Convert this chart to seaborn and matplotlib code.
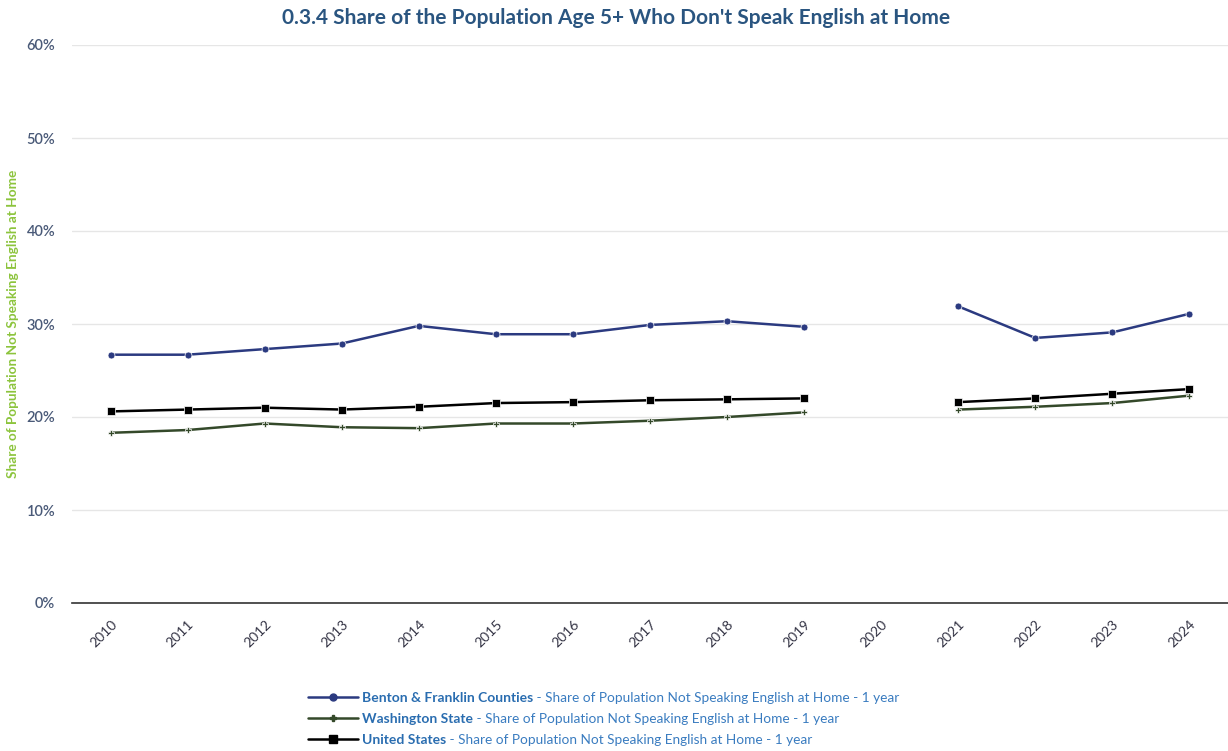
import pandas as pd
import numpy as np
import matplotlib
matplotlib.use("Agg")
import matplotlib.pyplot as plt
import seaborn as sns

# Values (share, %); 2020 has no 1-year estimate
years = [2010, 2011, 2012, 2013, 2014, 2015, 2016, 2017, 2018, 2019, 2021, 2022, 2023, 2024]
benton = [26.7, 26.7, 27.3, 27.9, 29.8, 28.9, 28.9, 29.9, 30.3, 29.7, 31.9, 28.5, 29.1, 31.1]
washington = [18.3, 18.6, 19.3, 18.9, 18.8, 19.3, 19.3, 19.6, 20.0, 20.5, 20.8, 21.1, 21.5, 22.3]
united_states = [20.6, 20.8, 21.0, 20.8, 21.1, 21.5, 21.6, 21.8, 21.9, 22.0, 21.6, 22.0, 22.5, 23.0]
tick_years = list(range(2010, 2025))

names = ["Benton & Franklin Counties", "Washington State", "United States"]
suffix = " - Share of Population Not Speaking English at Home - 1 year"

rows = []
for name, vals in zip(names, [benton, washington, united_states]):
    for yr, v in zip(years, vals):
        rows.append({"Year": yr, "Share": v / 100, "Region": name,
                     "Period": "pre" if yr < 2020 else "post"})
df = pd.DataFrame(rows)

sns.set_style("white")
plt.rcParams["font.family"] = ["Lato", "DejaVu Sans"]

palette = {names[0]: "#2b3a80", names[1]: "#34492a", names[2]: "#000000"}
markers = {names[0]: "o", names[1]: "P", names[2]: "s"}
sizes_m = {names[0]: 5, names[1]: 4, names[2]: 6}

fig = plt.figure(figsize=(12.28, 7.51), dpi=100)
ax = fig.add_axes([72 / 1228, 1 - 603 / 751, (1228 - 72) / 1228, (603 - 45) / 751])

for name in names:
    sub = df[df["Region"] == name]
    sns.lineplot(data=sub, x="Year", y="Share", units="Period", estimator=None,
                 color=palette[name], marker=markers[name], markersize=sizes_m[name],
                 markeredgewidth=0.5, linewidth=1.8, ax=ax, legend=False)

ax.set_xlim(2009.5, 2024.5)
ax.set_ylim(0, 0.6)
ax.set_yticks(np.arange(0, 0.61, 0.1))
ax.yaxis.set_major_formatter(matplotlib.ticker.PercentFormatter(1.0, decimals=0))
ax.set_xticks(tick_years)
ax.set_xticklabels([str(y) for y in tick_years], rotation=45, ha="right",
                   rotation_mode="anchor", color="#333344", fontsize=10)
for lbl in ax.get_yticklabels():
    lbl.set_color("#4a5a78")
    lbl.set_fontsize(10.5)
    lbl.set_fontweight("semibold")
ax.tick_params(axis="y", length=0, pad=12)
ax.tick_params(axis="x", length=0, pad=11)
ax.grid(axis="y", color="#e6e6e6", linewidth=1)
ax.set_axisbelow(True)
for s in ["top", "right", "left"]:
    ax.spines[s].set_visible(False)
ax.spines["bottom"].set_color("#333333")
ax.spines["bottom"].set_linewidth(1.2)

ax.set_xlabel("")
ax.set_ylabel("Share of Population Not Speaking English at Home", color="#8cc43c",
              fontsize=9.8, fontweight="bold")
ax.yaxis.set_label_coords(-0.046, 0.5)

fig.suptitle("0.3.4 Share of the Population Age 5+ Who Don't Speak English at Home",
             x=0.502, y=0.99, color="#2a5580", fontsize=15, fontweight="bold")

# legend: bold series name from the legend, plain suffix appended after it
handles = [matplotlib.lines.Line2D([], [], color=palette[n], marker=markers[n],
                                   markersize=sizes_m[n], linewidth=1.8) for n in names]
leg = fig.legend(handles, names, loc="upper left", bbox_to_anchor=(302 / 1228, 1 - 686 / 751),
                 frameon=False, fontsize=10, handlelength=3.6, labelspacing=0.66,
                 handletextpad=0.3, borderaxespad=0)
for t in leg.get_texts():
    t.set_color("#2a6db0")
    t.set_fontweight("bold")

fig.canvas.draw()
renderer = fig.canvas.get_renderer()
inv = fig.transFigure.inverted()
for t in leg.get_texts():
    bb = t.get_window_extent(renderer)
    x1, y0 = inv.transform((bb.x1, bb.y0))
    fig.text(x1, y0, suffix, fontsize=9.85, color="#3a7cc0", ha="left", va="bottom")

fig.savefig("out.png", dpi=100)
